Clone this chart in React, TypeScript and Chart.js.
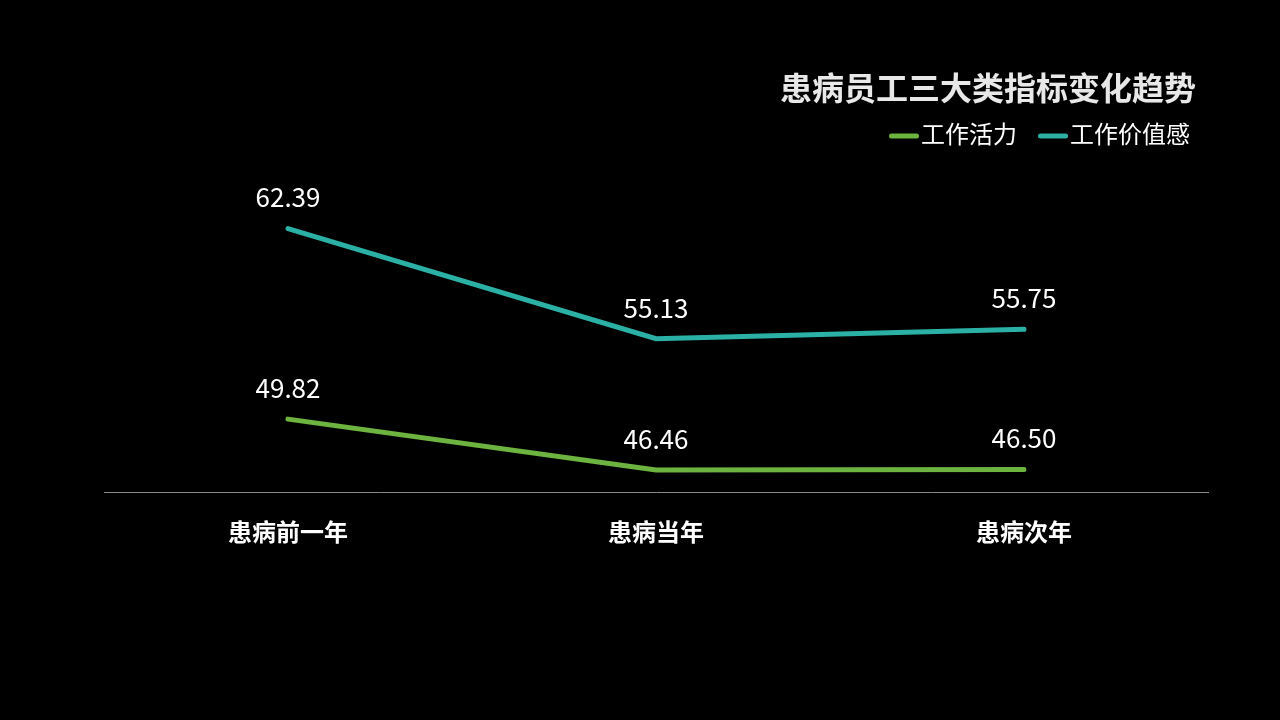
import { useEffect, useRef } from "react";
import { Chart, registerables } from "chart.js";

Chart.register(...registerables);

const categories = ["患病前一年", "患病当年", "患病次年"];
const vitality = [49.82, 46.46, 46.5];
const valueSense = [62.39, 55.13, 55.75];
const seriesNames = ["工作活力", "工作价值感"];
const seriesColors = ["#6cb33f", "#2bb0a6"];
const chartTitle = "患病员工三大类指标变化趋势";

const FONT = "'Noto Sans CJK SC', 'Noto Sans', sans-serif";

// 数值标签 + 标题 + 图例（自绘，控制位置）
const overlayPlugin = {
  id: "overlay",
  afterDatasetsDraw(chart: Chart) {
    const ctx = chart.ctx;
    ctx.save();
    ctx.fillStyle = "#ffffff";
    ctx.font = `26px ${FONT}`;
    ctx.textAlign = "center";
    ctx.textBaseline = "middle";
    chart.data.datasets.forEach((ds, i) => {
      const meta = chart.getDatasetMeta(i);
      meta.data.forEach((pt, j) => {
        const v = ds.data[j] as number;
        ctx.fillText(v.toFixed(2), pt.x, pt.y - 31);
      });
    });

    // 标题
    ctx.fillStyle = "#e8e8e8";
    ctx.font = `bold 32px ${FONT}`;
    ctx.textAlign = "right";
    ctx.fillText(chartTitle, 1196, 88);

    // 图例（从右往左排）
    ctx.font = `24px ${FONT}`;
    ctx.textAlign = "left";
    let right = 1190;
    const items = seriesNames.map((n, i) => ({ n, c: seriesColors[i] })).reverse();
    items.forEach((it) => {
      const w = ctx.measureText(it.n).width;
      const textX = right - w;
      ctx.fillStyle = "#ffffff";
      ctx.fillText(it.n, textX, 134);
      ctx.strokeStyle = it.c;
      ctx.lineWidth = 5;
      ctx.lineCap = "round";
      ctx.beginPath();
      ctx.moveTo(textX - 29.5, 136);
      ctx.lineTo(textX - 4.5, 136);
      ctx.stroke();
      right = textX - 53;
    });
    ctx.restore();
  },
};

export default function App() {
  const ref = useRef<HTMLCanvasElement>(null);

  useEffect(() => {
    document.body.style.margin = "0";
    document.body.style.background = "#000";
    if (!ref.current) return;
    const chart = new Chart(ref.current, {
      type: "line",
      data: {
        labels: categories,
        datasets: [
          {
            label: seriesNames[0],
            data: vitality,
            borderColor: seriesColors[0],
            backgroundColor: seriesColors[0],
            borderWidth: 5,
            borderCapStyle: "round",
            pointRadius: 0,
            tension: 0,
          },
          {
            label: seriesNames[1],
            data: valueSense,
            borderColor: seriesColors[1],
            backgroundColor: seriesColors[1],
            borderWidth: 5,
            borderCapStyle: "round",
            pointRadius: 0,
            tension: 0,
          },
        ],
      },
      options: {
        responsive: false,
        animation: false,
        layout: { padding: { left: 104, right: 72, top: 189, bottom: 149 } },
        plugins: {
          legend: { display: false },
          title: { display: false },
          tooltip: { enabled: false },
        },
        scales: {
          x: {
            offset: true,
            grid: { display: false, drawTicks: false },
            border: { display: true, color: "#8a8a8a", width: 1 },
            ticks: {
              color: "#ffffff",
              padding: 25,
              font: { family: FONT, size: 24, weight: "bold" },
            },
          },
          y: {
            display: false,
            min: 45,
            max: 65,
          },
        },
      },
      plugins: [overlayPlugin],
    });
    return () => chart.destroy();
  }, []);

  return (
    <div style={{ width: 1280, height: 720, background: "#000" }}>
      <canvas ref={ref} width={1280} height={720} style={{ display: "block" }} />
    </div>
  );
}
